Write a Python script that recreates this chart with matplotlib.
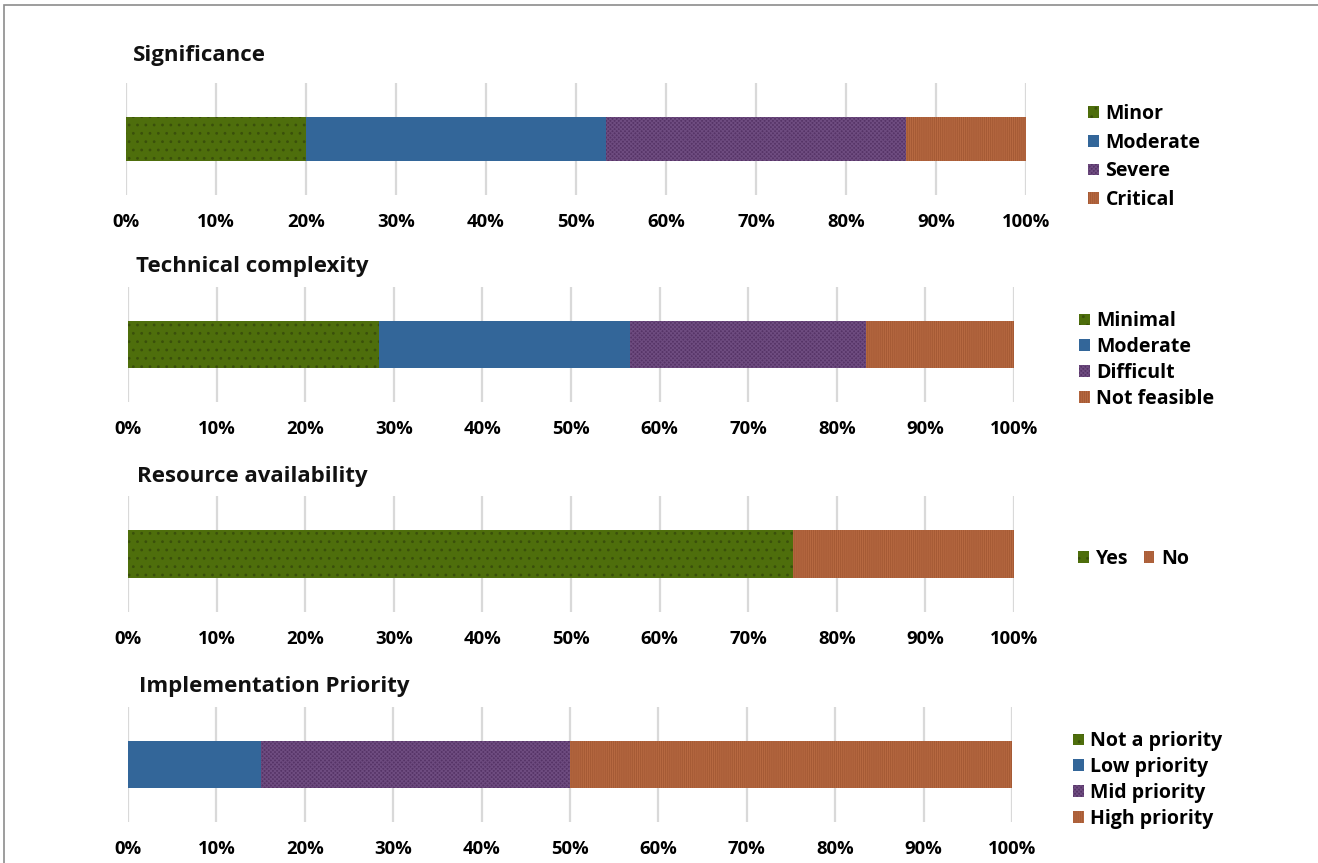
import matplotlib
matplotlib.use("Agg")
import matplotlib.pyplot as plt
from matplotlib.patches import Patch, Rectangle
from matplotlib.ticker import PercentFormatter

plt.rcParams['font.family'] = ['Open Sans', 'DejaVu Sans']
plt.rcParams['hatch.linewidth'] = 0.8

# ---- data ----
titles = ["Significance", "Technical complexity", "Resource availability", "Implementation Priority"]
sig_labels = ["Minor", "Moderate", "Severe", "Critical"]
sig_values = [20.0, 33.3, 33.4, 13.3]
tech_labels = ["Minimal", "Moderate", "Difficult", "Not feasible"]
tech_values = [28.3, 28.4, 26.6, 16.7]
res_labels = ["Yes", "No"]
res_values = [75.0, 25.0]
prio_labels = ["Not a priority", "Low priority", "Mid priority", "High priority"]
prio_values = [0.0, 15.0, 35.0, 50.0]
tick_values = list(range(0, 101, 10))

# styles (green, blue, purple, orange)
styles = {
    "green": dict(facecolor="#4E6E0C", edgecolor="#3A500B", hatch=".."),
    "blue": dict(facecolor="#336699", edgecolor="#336699", hatch=None),
    "purple": dict(facecolor="#563467", edgecolor="#6E4C80", hatch="xxxxxxxx"),
    "orange": dict(facecolor="#B86A42", edgecolor="#A55A35", hatch="||||||||"),
}
style4 = ["green", "blue", "purple", "orange"]
style2 = ["green", "orange"]

W, H = 1318, 863
fig = plt.figure(figsize=(W / 100, H / 100), dpi=100)

# outer frame
fig.patches.append(Rectangle((4 / W, -0.01), 1.02, 1 - 5 / H + 0.01, transform=fig.transFigure,
                             fill=False, edgecolor="#8c8c8c", linewidth=1.2))

panels = [
    dict(labels=sig_labels, values=sig_values, st=style4, x0=126, x1=1026, bar=(117, 161),
         title_xy=(133, 56), leg=(1088, 157), ncol=1, lsp=0.45),
    dict(labels=tech_labels, values=tech_values, st=style4, x0=128, x1=1014, bar=(321, 368),
         title_xy=(136, 266), leg=(1079, 360), ncol=1, lsp=0.3),
    dict(labels=res_labels, values=res_values, st=style2, x0=128, x1=1014, bar=(530, 578),
         title_xy=(137, 476), leg=(1078, 559), ncol=2, lsp=0.3),
    dict(labels=prio_labels, values=prio_values, st=style4, x0=128, x1=1012, bar=(741, 788),
         title_xy=(139, 686), leg=(1073, 780), ncol=1, lsp=0.3),
]

gap = 34
for title, p in zip(titles, panels):
    btop, bbot = p["bar"]
    top = btop - gap
    bot = bbot + gap
    ax = fig.add_axes([p["x0"] / W, 1 - bot / H, (p["x1"] - p["x0"]) / W, (bot - top) / H])
    barh = (bbot - btop) / (bot - top)
    left = 0.0
    handles = []
    for lab, val, s in zip(p["labels"], p["values"], p["st"]):
        kw = styles[s]
        ax.barh(0, val, left=left, height=barh, facecolor=kw["facecolor"], edgecolor=kw["edgecolor"],
                hatch=kw["hatch"], linewidth=0, zorder=3)
        left += val
        handles.append(Patch(facecolor=kw["facecolor"], edgecolor=kw["edgecolor"], hatch=kw["hatch"],
                             linewidth=0, label=lab))
    ax.set_xlim(0, 100)
    ax.set_ylim(-0.5, 0.5)
    ax.set_xticks(tick_values)
    ax.xaxis.set_major_formatter(PercentFormatter(decimals=0))
    ax.set_yticks([])
    for sp in ax.spines.values():
        sp.set_visible(False)
    ax.grid(axis="x", color="#d9d9d9", linewidth=1.6, zorder=0)
    ax.tick_params(axis="x", length=0, pad=13, labelsize=13.3)
    for t in ax.get_xticklabels():
        t.set_fontweight("bold")
    fig.text(p["title_xy"][0] / W, 1 - p["title_xy"][1] / H, title, fontsize=16, fontweight="bold",
             ha="left", va="center", color="#111111")
    fig.legend(handles=handles, loc="center left", bbox_to_anchor=(p["leg"][0] / W, 1 - p["leg"][1] / H),
               frameon=False, ncol=p["ncol"], prop=dict(weight="bold", size=14),
               handlelength=0.55, handleheight=0.55, handletextpad=0.35, labelspacing=p["lsp"],
               columnspacing=0.8, borderaxespad=0, borderpad=0)

fig.savefig("out.png", dpi=100)
